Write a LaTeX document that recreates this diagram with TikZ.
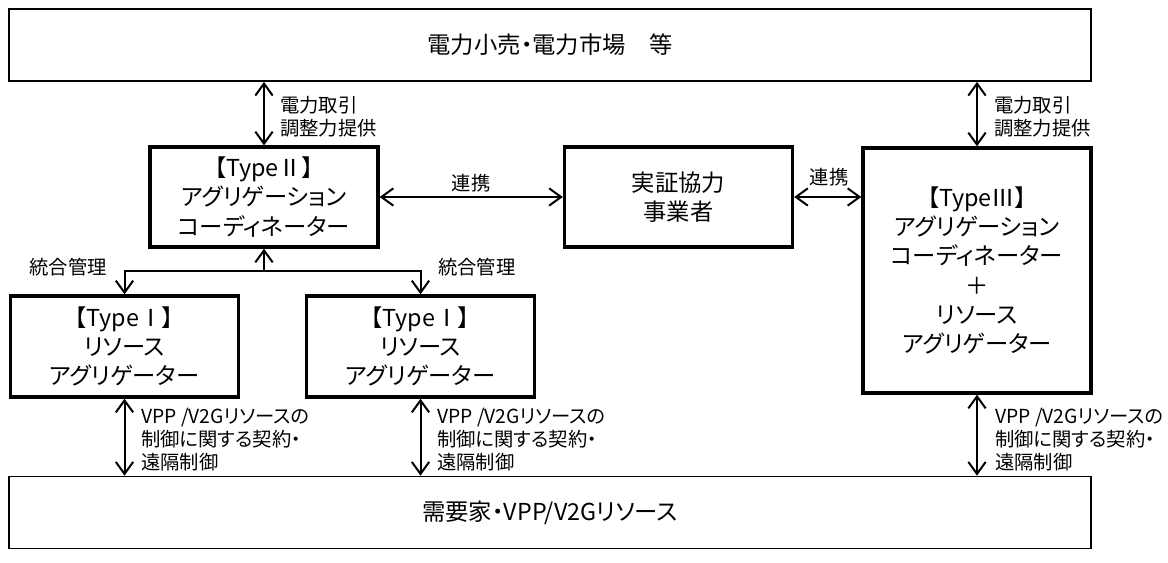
\documentclass[tikz,border=0pt]{standalone}
\usepackage{fontspec}
\setmainfont{Noto Sans CJK JP}[RawFeature=+palt]
\usetikzlibrary{arrows.meta}

\begin{document}
\begin{tikzpicture}[x=0.75pt, y=-0.75pt,
	wide/.style={draw, line width=1.3pt, inner sep=0pt, minimum width=811.5pt, minimum height=54pt, font=\fontsize{17.5}{22}\selectfont},
	actor/.style={draw, line width=2.5pt, inner sep=0pt, align=center, minimum width=171pt, font=\fontsize{17.5}{22}\selectfont},
	lbl/.style={inner sep=0pt, align=left, font=\fontsize{14.5}{17.25}\selectfont},
	link/.style={line width=1.5pt, {Straight Barb[length=9pt,width=13pt]}-{Straight Barb[length=9pt,width=13pt]}},
	oneway/.style={line width=1.5pt, -{Straight Barb[length=9pt,width=13pt]}}]
\useasboundingbox (0,0) rectangle (1168,563);
\node[wide] (market) at (550,45) {電力小売・電力市場　等};
\node[wide] (demand) at (550,512.5) {需要家・VPP/V2Gリソース};
\node[actor, minimum height=75pt] (coord) at (264,197) {【TypeⅡ】\\アグリゲーション\\コーディネーター};
\node[actor, minimum height=75pt] (partner) at (678.5,197) {実証協力\\事業者};
\node[actor, minimum height=183.75pt] (both) at (977,270.5) {【TypeⅢ】\\アグリゲーション\\コーディネーター\\＋\\リソース\\アグリゲーター};
\foreach \x/\name in {124.5/resA, 420.5/resB}
	\node[actor, minimum height=75.75pt] (\name) at (\x,346.5) {【TypeⅠ】\\リソース\\アグリゲーター};
\draw[link] (market.south -| coord.north) -- (coord.north);
\draw[link] (market.south -| both.north) -- (both.north);
\draw[link] (coord.east) -- (partner.west);
\draw[link] (partner.east) -- (partner.east -| both.west);
\coordinate (hub) at (264,271);
\draw[oneway] (hub) -- (coord.south);
\draw[oneway] (hub) -| (resA.north);
\draw[oneway] (hub) -| (resB.north);
\foreach \name in {resA, resB, both}
	\draw[link] (\name.south) -- (\name.south |- demand.north);
\node[lbl, anchor=west] (tradeA) at (280,116.5) {電力取引\\調整力提供};
\node[lbl, anchor=west] (tradeB) at (994,116.5) {電力取引\\調整力提供};
\node[lbl] (linkA) at (471,183) {連携};
\node[lbl] (linkB) at (829,177) {連携};
\node[lbl, anchor=east] (mgmtA) at (107,267) {統合管理};
\node[lbl, anchor=west] (mgmtB) at (438,267) {統合管理};
\foreach \x/\name in {141/ctrlA, 437/ctrlB, 995/ctrlC}
	\node[lbl, anchor=west] (\name) at (\x,440) {VPP /V2Gリソースの\\制御に関する契約・\\遠隔制御};
\end{tikzpicture}
\end{document}
